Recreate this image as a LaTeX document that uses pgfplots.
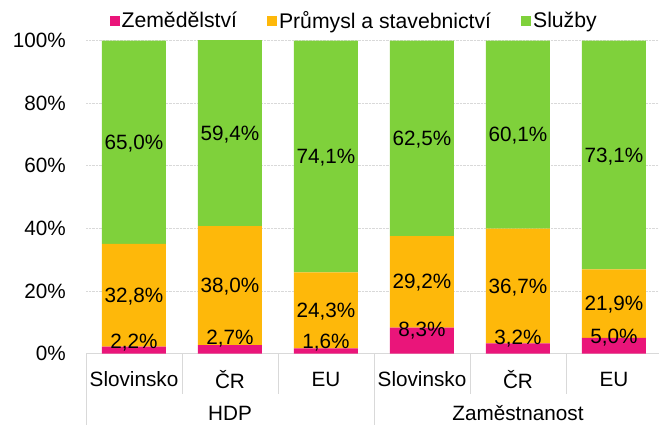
\documentclass[border=0pt]{standalone}
\usepackage{pgfplots}
\pgfplotsset{compat=1.18}
\usepackage{fontspec}
\setmainfont{Liberation Sans}
\definecolor{zem}{HTML}{EA157A}
\definecolor{prum}{HTML}{FEB80A}
\definecolor{sluz}{HTML}{7FD13B}
\definecolor{gridc}{HTML}{D9D9D9}
\begin{document}
\fontsize{20.7pt}{24pt}\selectfont
\begin{tikzpicture}
\useasboundingbox (0,0) rectangle (659pt,424pt);
\pgfplotsset{base/.style={
  scale only axis, width=573pt, height=313pt,
  at={(86pt,70.5pt)}, anchor=south west,
  xmin=-0.5, xmax=5.469, ymin=0, ymax=100,
}}
\begin{axis}[base,
  ybar stacked, bar width=64pt,
  clip mode=individual,
  axis line style={draw=none},
  xtick={0,...,5}, xticklabels={Slovinsko,ČR,EU,Slovinsko,ČR,EU},
  xtick style={draw=none},
  xticklabel style={anchor=center, yshift=-26pt},
  ytick={0,20,...,100}, yticklabels={0\%,20\%,40\%,60\%,80\%,100\%},
  ytick style={draw=none},
  yticklabel style={xshift=-13pt},
  ymajorgrids, grid style={gridc, densely dotted, line width=0.8pt},
  legend columns=-1,
  legend style={at={(0.468,1.062)}, anchor=center, draw=none, fill=none,
    /tikz/every even column/.append style={column sep=28pt},
    nodes={inner sep=2pt}, font=\fontsize{21.2pt}{24pt}\selectfont},
  legend image code/.code={\fill[#1] (0pt,-5pt) rectangle (10pt,5pt);},
]
\addplot[fill=zem, draw=none] coordinates {(0,2.2) (1,2.7) (2,1.6) (3,8.3) (4,3.2) (5,5.0)};
\addlegendentry{Zemědělství}
\addplot[fill=prum, draw=none] coordinates {(0,32.8) (1,38.0) (2,24.3) (3,29.2) (4,36.7) (5,21.9)};
\addlegendentry{Průmysl a stavebnictví}
\addplot[fill=sluz, draw=none] coordinates {(0,65.0) (1,59.4) (2,74.1) (3,62.5) (4,60.1) (5,73.1)};
\addlegendentry{Služby}
\draw[gridc, line width=1pt] (axis cs:-0.5,0) -- (axis cs:5.469,0);
\pgfplotsinvokeforeach{0.5,1.5,3.5,4.5}{\draw[gridc, line width=0.8pt] (axis cs:#1,0) -- ([yshift=-40pt]axis cs:#1,0);}
\pgfplotsinvokeforeach{-0.5,2.5}{\draw[gridc, line width=0.8pt] (axis cs:#1,0) -- ([yshift=-71pt]axis cs:#1,0);}
\node at (axis cs:1,0) [yshift=-60pt] {HDP};
\node at (axis cs:4,0) [yshift=-60pt] {Zaměstnanost};
\end{axis}
\begin{axis}[base, hide axis, clip=false,
  point meta=explicit symbolic,
  nodes near coords style={anchor=center}]
\addplot[draw=none, mark=none, nodes near coords] table[meta=label] {
x y label
0 3.5 2,2\%
0 18.2 32,8\%
0 67.1 65,0\%
1 4.8 2,7\%
1 21.3 38,0\%
1 69.9 59,4\%
2 3.5 1,6\%
2 13.35 24,3\%
2 62.55 74,1\%
3 7.4 8,3\%
3 22.5 29,2\%
3 68.35 62,5\%
4 4.8 3,2\%
4 21.15 36,7\%
4 69.55 60,1\%
5 5.1 5,0\%
5 15.55 21,9\%
5 63.05 73,1\%
};
\end{axis}
\end{tikzpicture}
\end{document}
